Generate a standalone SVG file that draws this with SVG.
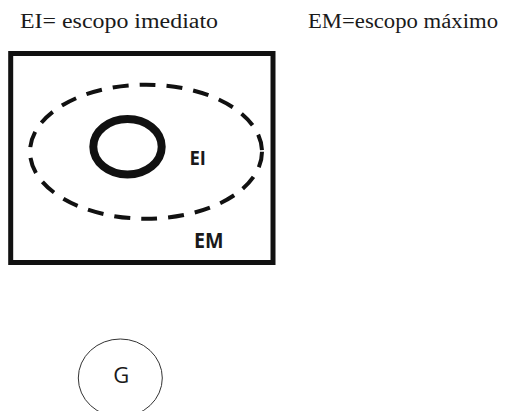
<svg xmlns="http://www.w3.org/2000/svg" width="512" height="411" viewBox="0 0 512 411">
<style>
.title{font-family:"Liberation Serif","Times New Roman",serif;font-size:20px;fill:#1a1a1a}
.lbl{font-family:"Open Sans","DejaVu Sans",sans-serif;font-weight:bold;fill:#1a1a1a}
.g{font-family:"Open Sans","DejaVu Sans",sans-serif;font-size:22px;fill:#1a1a1a}
</style>
<rect width="512" height="411" fill="#ffffff"/>
<g id="legend">
<text class="title" x="20" y="28.3" textLength="198" lengthAdjust="spacingAndGlyphs">EI= escopo imediato</text>
<text class="title" x="308" y="28.3" textLength="190" lengthAdjust="spacingAndGlyphs">EM=escopo máximo</text>
</g>
<g id="EM">
<rect x="10.7" y="53.5" width="262.3" height="209" fill="none" stroke="#111" stroke-width="5"/>
<text class="lbl" x="194" y="247.5" style="font-size:21px" textLength="29.5" lengthAdjust="spacingAndGlyphs">EM</text>
</g>
<g id="EI">
<ellipse cx="146" cy="151.7" rx="116" ry="67" fill="none" stroke="#111" stroke-width="4" stroke-dasharray="16 11"/>
<text class="lbl" x="189.5" y="164.5" style="font-size:19px" textLength="16.5" lengthAdjust="spacingAndGlyphs">EI</text>
</g>
<g id="core">
<ellipse cx="127.5" cy="146.7" rx="34.2" ry="27.7" fill="none" stroke="#111" stroke-width="8"/>
</g>
<g id="G">
<ellipse cx="120.3" cy="378" rx="42" ry="39" fill="none" stroke="#333" stroke-width="1"/>
<text class="g" x="121.3" y="382.5" text-anchor="middle">G</text>
</g>
<g id="connectors"/>
</svg>
